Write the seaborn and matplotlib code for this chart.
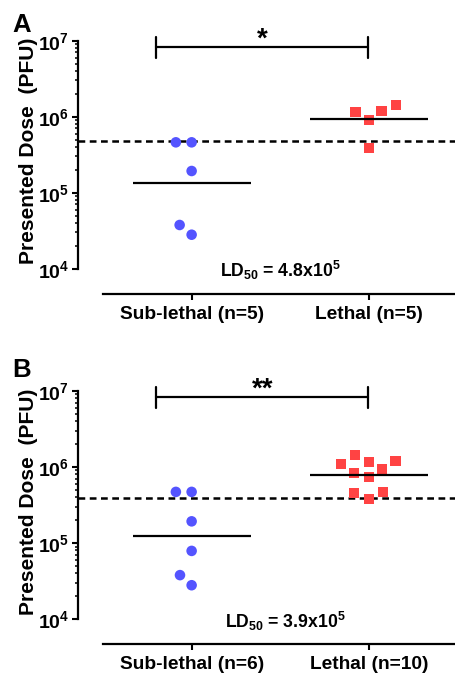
import numpy as np
import pandas as pd
import matplotlib
matplotlib.use("Agg")
import matplotlib.pyplot as plt
import seaborn as sns
from matplotlib.ticker import LogLocator, NullFormatter

# ---------------- data ----------------
groups_A = ["Sub-lethal (n=5)", "Lethal (n=5)"]
sublethal_A = [4.6e5, 4.6e5, 1.93e5, 3.76e4, 2.8e4]
lethal_A = [1.41e6, 1.15e6, 9.1e5, 1.19e6, 3.84e5]
ld50_A = 4.8e5
ld50_text_A = r"LD$_{50}$ = 4.8x10$^{5}$"
sig_A = "*"

groups_B = ["Sub-lethal (n=6)", "Lethal (n=10)"]
sublethal_B = [4.7e5, 4.7e5, 1.93e5, 7.9e4, 3.8e4, 2.8e4]
lethal_B = [1.43e6, 1.09e6, 1.16e6, 1.19e6, 9.3e5, 8.4e5, 7.3e5,
            4.65e5, 4.54e5, 3.83e5]
ld50_B = 3.9e5
ld50_text_B = r"LD$_{50}$ = 3.9x10$^{5}$"
sig_B = "**"

panel_labels = ["A", "B"]
ytick_vals = [1e4, 1e5, 1e6, 1e7]
ytick_labels = [r"$10^{4}$", r"$10^{5}$", r"$10^{6}$", r"$10^{7}$"]
ylabel = "Presented Dose  (PFU)"

BLUE = "#5454ff"
RED = "#ff4343"

# ---------------- style ----------------
sns.set_style("ticks")
plt.rcParams["font.family"] = ["Liberation Sans", "DejaVu Sans"]
plt.rcParams["font.weight"] = "bold"
plt.rcParams["mathtext.fontset"] = "custom"
plt.rcParams["mathtext.rm"] = "Liberation Sans:bold"
plt.rcParams["mathtext.bf"] = "Liberation Sans:bold"
plt.rcParams["mathtext.it"] = "Liberation Sans:bold:italic"
plt.rcParams["mathtext.default"] = "rm"
for k in ("text.color", "axes.labelcolor", "xtick.color", "ytick.color",
          "axes.edgecolor"):
    plt.rcParams[k] = "black"

fig = plt.figure(figsize=(4.55, 6.79), dpi=100)
W, H = 455.0, 679.0

panels = [
    dict(groups=groups_A, sub=sublethal_A, leth=lethal_A, ld50=ld50_A,
         ld_text=ld50_text_A, sig=sig_A, top=40.7, bottom=268.7,
         ld_x=0.5, label=panel_labels[0], lab_base=32.0),
    dict(groups=groups_B, sub=sublethal_B, leth=lethal_B, ld50=ld50_B,
         ld_text=ld50_text_B, sig=sig_B, top=390.7, bottom=619.3,
         ld_x=0.53, label=panel_labels[1], lab_base=377.0),
]

left_px, right_px = 103.0, 457.5

for p in panels:
    ax = fig.add_axes([left_px / W, 1 - p["bottom"] / H,
                       (right_px - left_px) / W, (p["bottom"] - p["top"]) / H])
    ax.set_yscale("log")
    df_sub = pd.DataFrame({"group": p["groups"][0], "dose": p["sub"]})
    df_let = pd.DataFrame({"group": p["groups"][1], "dose": p["leth"]})
    # invisible edge widens swarm spacing (GraphPad-like gaps between points)
    sns.swarmplot(data=df_sub, x="group", y="dose", order=p["groups"],
                  color=BLUE, marker="o", size=7.6, linewidth=3.2,
                  edgecolor="none", ax=ax, zorder=3)
    sns.swarmplot(data=df_let, x="group", y="dose", order=p["groups"],
                  color=RED, marker="s", size=7.4, linewidth=3.4,
                  edgecolor="none", ax=ax, zorder=3)

    # geometric mean lines
    for i, vals in enumerate([p["sub"], p["leth"]]):
        gm = 10 ** np.mean(np.log10(vals))
        ax.hlines(gm, i - 0.333, i + 0.333, color="black", lw=1.6, zorder=4)

    # LD50 dashed line
    ax.plot([-0.641, 1.5], [p["ld50"], p["ld50"]], color="black", lw=1.8,
            dashes=(2.7, 1.8), clip_on=False, zorder=1)

    ax.set_xlim(-0.5, 1.5)
    ax.set_ylim(1e4, 1e7)

    # significance bracket
    ax.plot([-0.2, 0.996], [8.3e6, 8.3e6], color="black", lw=1.6, clip_on=False)
    for xb in (-0.2, 0.996):
        ax.plot([xb, xb], [6.0e6, 1.13e7], color="black", lw=1.6, clip_on=False)
    ax.text(0.398, 8.3e6, p["sig"], ha="center", va="baseline", fontsize=20,
            fontweight="bold", clip_on=False)

    # LD50 text
    ax.text(p["ld_x"], -0.038, p["ld_text"], transform=ax.get_xaxis_transform(),
            ha="center", va="baseline", fontsize=12.7, fontweight="bold")

    # axes styling
    sns.despine(ax=ax)
    ax.spines["left"].set_position(("outward", 18))
    ax.spines["bottom"].set_position(("outward", 18))
    for s in ("left", "bottom"):
        ax.spines[s].set_linewidth(1.6)
        ax.spines[s].set_color("black")
    ax.set_yticks(ytick_vals, ytick_labels)
    ax.yaxis.set_minor_locator(LogLocator(base=10, subs=np.arange(2, 10)))
    ax.yaxis.set_minor_formatter(NullFormatter())
    ax.tick_params(axis="y", which="major", length=4.5, width=1.5, pad=2,
                   labelsize=14, colors="black")
    ax.tick_params(axis="y", which="minor", length=2.4, width=1.1,
                   colors="black")
    ax.set_xticks([0, 1], p["groups"])
    ax.tick_params(axis="x", which="major", length=4.5, width=1.5, pad=4,
                   labelsize=13.8, colors="black")
    for t in ax.get_xticklabels() + ax.get_yticklabels():
        t.set_fontweight("bold")
    ax.set_xlabel("")
    ax.set_ylabel(ylabel, fontsize=15.1, fontweight="bold", color="black")
    ax.yaxis.set_label_coords(-0.183, 0.515)

    fig.text(12 / W, 1 - p["lab_base"] / H, p["label"], fontsize=18.5,
             fontweight="bold", ha="left", va="baseline", color="black")

fig.savefig("out.png", dpi=100)
